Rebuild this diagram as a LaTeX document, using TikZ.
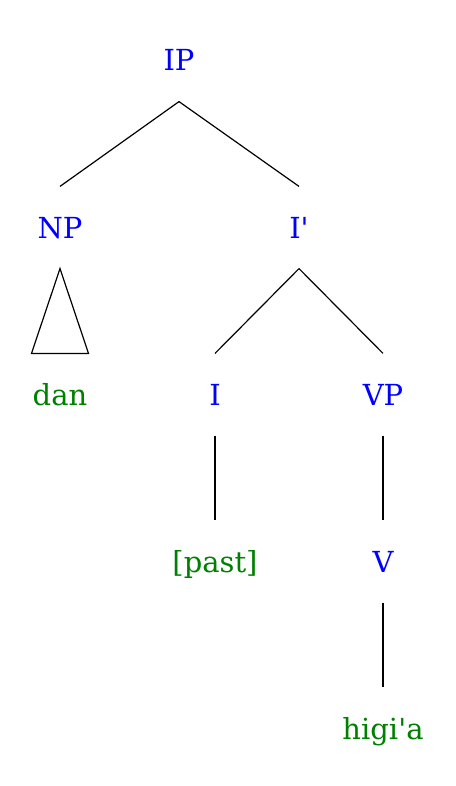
\documentclass[tikz,border=0pt]{standalone}
\usepackage{fontspec}
\setmainfont{DejaVu Serif}
\definecolor{catblue}{RGB}{0,0,255}
\definecolor{wordgreen}{RGB}{0,128,0}
\begin{document}
\begin{tikzpicture}[x=1pt, y=-1pt]
        \tikzset{every node/.style = {anchor=base, inner sep=0pt, text height=51pt, text depth=30pt, font=\fontsize{29}{34}\selectfont},
                 cat/.style = {text=catblue},
                 word/.style = {text=wordgreen},
                 every path/.style = {line width=1.2pt}}
        \useasboundingbox (0, 0) rectangle (455, 786);

        \node[cat] (ip) at (179, 71) {IP};

        \node[cat] (np) at (60, 238) {NP};
        \node[cat] (ib) at (299, 238) {I\textquotesingle};

        \node[word] (dan) at (60, 405) {dan};
        \node[cat] (i) at (215, 405) {I};
        \node[cat] (vp) at (383, 405) {VP};

        \node[word] (past) at (215, 572) {[past]};
        \node[cat] (v) at (383, 572) {V};

        \node[word] (higia) at (383, 739) {higi\textquotesingle a};

        \draw (ip.south) -- (np.north);
        \draw (ip.south) -- (ib.north);

        \draw (np.south) -- ([xshift=-28.5pt]dan.north) -- ([xshift=28.5pt]dan.north) -- cycle;

        \draw (ib.south) -- (i.north);
        \draw (ib.south) -- (vp.north);

        \draw (i.south) -- (past.north);
        \draw (vp.south) -- (v.north);
        \draw (v.south) -- (higia.north);

    \end{tikzpicture}
\end{document}
